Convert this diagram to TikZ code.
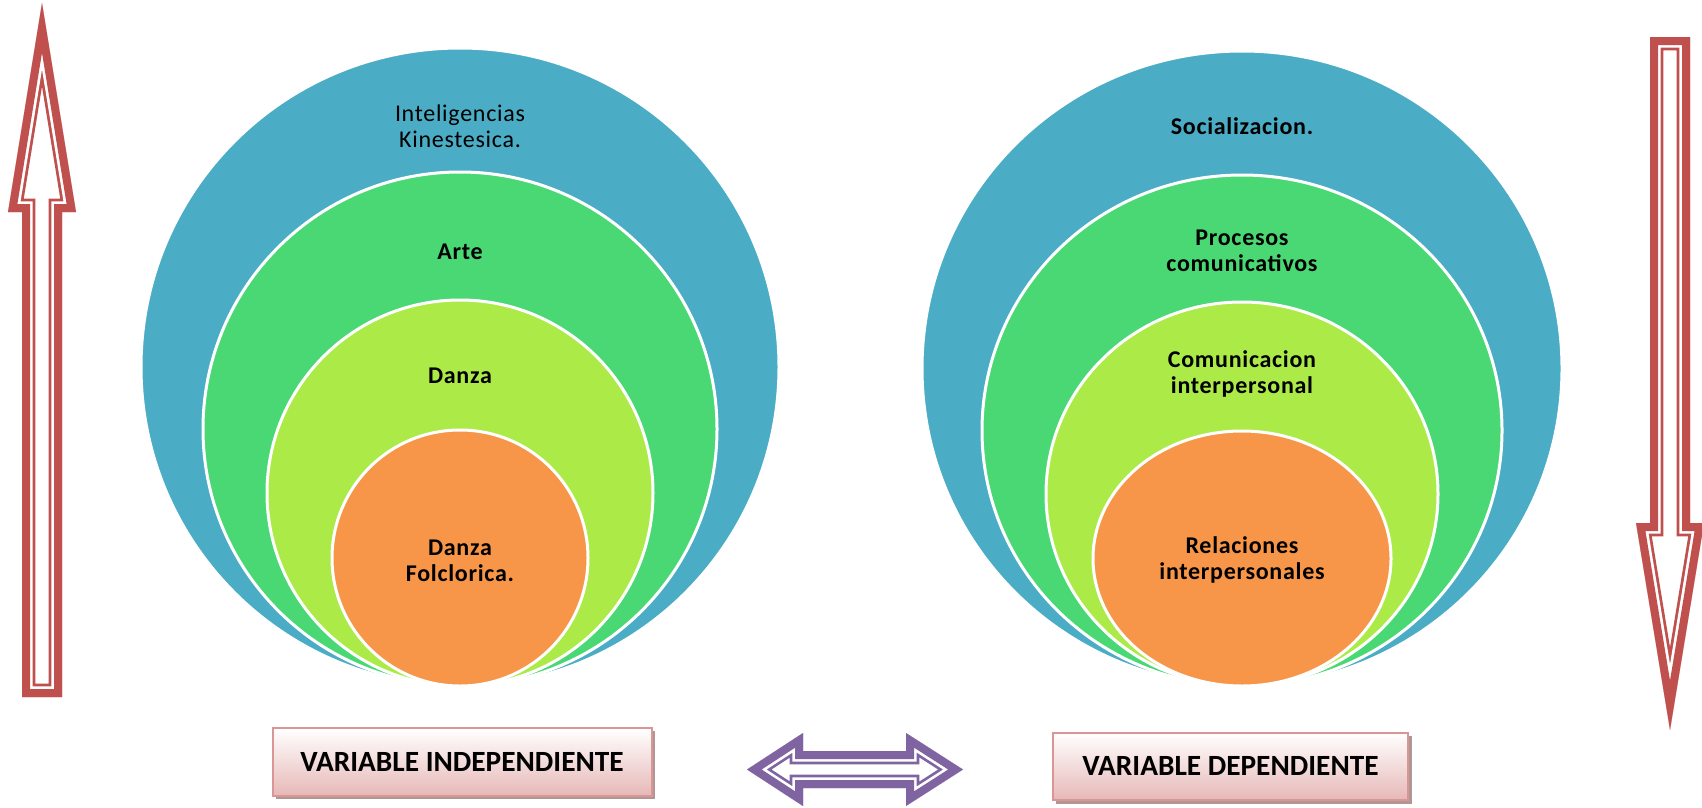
\documentclass[tikz,border=0pt]{standalone}
\usepackage{fontspec}
\setmainfont{Carlito}
\usetikzlibrary{shadows}

\definecolor{circBlue}{RGB}{75,172,198}
\definecolor{circGreen}{RGB}{74,216,116}
\definecolor{circLime}{RGB}{172,234,72}
\definecolor{circOrange}{RGB}{247,150,72}
\definecolor{arrowRed}{RGB}{192,80,77}
\definecolor{arrowPurple}{RGB}{128,100,162}
\definecolor{boxBorder}{RGB}{217,150,148}
\definecolor{boxPink}{RGB}{230,184,183}
\definecolor{boxShadow}{RGB}{178,150,150}

% thick-thin outline of a block arrow: #1 colour, #2 closed path
\newcommand{\compoundarrow}[2]{%
  \begin{scope}
    \clip #2;
    \fill [white] #2;
    \draw [#1, line width=20.1pt, line join=miter, miter limit=30] #2;
    \draw [white, line width=16pt, line join=miter, miter limit=30] #2;
    \draw [#1, line width=12pt, line join=miter, miter limit=30] #2;
  \end{scope}}

\tikzset{every picture/.style={line width=0.75pt}}
\tikzset{
  ring/.style={draw=white, line width=2.25pt},
  txt/.style={inner sep=0.75pt, align=center, text=black,
    font=\fontsize{18}{19.5}\selectfont\addfontfeature{LetterSpace=3}},
  txtb/.style={txt, font=\fontsize{18}{19.5}\selectfont\bfseries\addfontfeature{LetterSpace=3}},
  varbox/.style={draw=boxBorder, line width=1.5pt, top color=white, bottom color=boxPink,
    inner sep=0pt, font=\fontsize{22}{24}\selectfont\bfseries,
    drop shadow={shadow xshift=2.6pt, shadow yshift=-2.6pt, fill=boxShadow, opacity=1}}
}

\begin{document}
\begin{tikzpicture}[x=0.75pt,y=0.75pt,yscale=-1,xscale=1]
        \useasboundingbox (0,0) rectangle (1702,807);
        %Shape: Circle (left set)
        \draw [ring, fill=circBlue] (460,367) circle (319);
        \draw [ring, fill=circGreen] (460,429) circle (257);
        \draw [ring, fill=circLime] (460,493) circle (193);
        \draw [ring, fill=circOrange] (460,558) circle (128);
        %Shape: Ellipse (right set)
        \draw [ring, fill=circBlue] (1242,368.5) ellipse (320 and 317.5);
        \draw [ring, fill=circGreen] (1242,430.5) ellipse (260 and 255.5);
        \draw [ring, fill=circLime] (1242,494) ellipse (196 and 192);
        \draw [ring, fill=circOrange] (1242,558.5) ellipse (149 and 127.5);

        %Shape: Up Arrow
        \compoundarrow{arrowRed}{(42,3) -- (76,212) -- (62,212) -- (62,697) -- (22,697) -- (22,212) -- (8,212) -- cycle}
        %Shape: Down Arrow
        \compoundarrow{arrowRed}{(1650,37) -- (1690,37) -- (1690,523) -- (1704,523) -- (1670,730) -- (1636,523) -- (1650,523) -- cycle}
        %Shape: Left Right Arrow
        \compoundarrow{arrowPurple}{(747,769.5) -- (803,733) -- (803,751) -- (906,751) -- (906,733) -- (963,769.5) -- (906,806) -- (906,788) -- (803,788) -- (803,806) -- cycle}

        % Text Node
        \draw (460,126) node (intel) [txt] {Inteligencias\\Kinestesica.};
        % Text Node
        \draw (460,252) node (arte) [txtb] {Arte};
        % Text Node
        \draw (460,376) node (danza) [txtb] {Danza};
        % Text Node
        \draw (460,561) node (folclor) [txtb] {Danza\\Folclorica.};
        % Text Node
        \draw (1242,126) node (social) [txtb] {Socializacion.};
        % Text Node
        \draw (1242,251) node (procesos) [txtb] {Procesos\\comunicativos};
        % Text Node
        \draw (1242,374) node (comunic) [txtb] {Comunicacion\\interpersonal};
        % Text Node
        \draw (1242,560) node (relac) [txtb] {Relaciones\\interpersonales};

        % Boxes
        \draw (462,762) node (indep) [varbox, minimum width=284.25pt, minimum height=51pt] {VARIABLE INDEPENDIENTE};
        \draw (1230.5,766.4) node (dep) [varbox, minimum width=266.7pt, minimum height=50.5pt] {VARIABLE DEPENDIENTE};
\end{tikzpicture}
\end{document}
